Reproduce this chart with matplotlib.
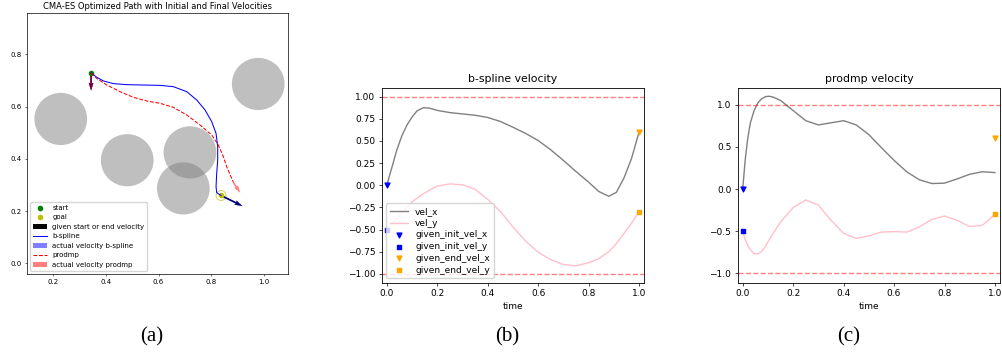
import numpy as np
import matplotlib.pyplot as plt
from matplotlib.patches import Circle

# obstacles (x, y) and radius
obs_x = [0.229, 0.481, 0.719, 0.694, 0.978]
obs_y = [0.553, 0.395, 0.425, 0.287, 0.687]
obs_r = 0.1

start = (0.344, 0.729)
goal = (0.837, 0.26)

# paths
bspline_x = [0.344, 0.3656, 0.3908, 0.4287, 0.4793, 0.5425, 0.6057, 0.6562, 0.7068, 0.7447,
             0.7763, 0.8016, 0.818, 0.8243, 0.8243, 0.8205, 0.818, 0.8205, 0.837]
bspline_y = [0.729, 0.7125, 0.6986, 0.6884, 0.6844, 0.683, 0.6817, 0.6767, 0.6576, 0.6257,
             0.5874, 0.5426, 0.4978, 0.4469, 0.3958, 0.3447, 0.2937, 0.2707, 0.26]
prodmp_x = [0.344, 0.3656, 0.4035, 0.454, 0.5046, 0.5552, 0.6057, 0.6562, 0.7068, 0.7573,
            0.8016, 0.8268, 0.8458, 0.8584, 0.8774, 0.8837]
prodmp_y = [0.729, 0.7087, 0.6831, 0.6576, 0.6359, 0.6218, 0.6129, 0.5976, 0.5682, 0.5299,
            0.4916, 0.4533, 0.4086, 0.3703, 0.3256, 0.3102]

# given boundary velocities
init_vel = (0.0, -0.5)
end_vel = (0.6, -0.3)

# velocity profiles
t_b = [0, 0.02, 0.04, 0.06, 0.08, 0.1, 0.12, 0.145, 0.17, 0.2, 0.25, 0.3, 0.35, 0.4, 0.45,
       0.5, 0.55, 0.6, 0.65, 0.7, 0.75, 0.8, 0.84, 0.88, 0.91, 0.94, 0.97, 1.0]
b_vel_x = [0.0, 0.2, 0.4, 0.56, 0.68, 0.77, 0.84, 0.875, 0.87, 0.845, 0.82, 0.805, 0.79, 0.765,
           0.72, 0.655, 0.585, 0.505, 0.40, 0.28, 0.155, 0.035, -0.07, -0.125, -0.08, 0.08, 0.3, 0.6]
b_vel_y = [-0.5, -0.44, -0.375, -0.315, -0.245, -0.19, -0.145, -0.096, -0.055, -0.01, 0.015,
           0.005, -0.045, -0.16, -0.295, -0.47, -0.63, -0.755, -0.84, -0.895, -0.91, -0.875,
           -0.83, -0.75, -0.66, -0.545, -0.43, -0.3]

t_p = [0, 0.01, 0.02, 0.03, 0.045, 0.06, 0.075, 0.09, 0.105, 0.12, 0.15, 0.2, 0.25, 0.3, 0.35,
       0.4, 0.45, 0.5, 0.55, 0.6, 0.65, 0.7, 0.75, 0.8, 0.85, 0.9, 0.95, 1.0]
p_vel_x = [0.0, 0.35, 0.6, 0.78, 0.93, 1.02, 1.07, 1.095, 1.1, 1.09, 1.05, 0.93, 0.81, 0.76,
           0.785, 0.81, 0.76, 0.645, 0.49, 0.34, 0.205, 0.11, 0.065, 0.07, 0.12, 0.175, 0.205, 0.195]
p_vel_y = [-0.5, -0.6, -0.67, -0.72, -0.765, -0.77, -0.74, -0.68, -0.6, -0.53, -0.39, -0.22,
           -0.13, -0.19, -0.37, -0.525, -0.585, -0.555, -0.51, -0.505, -0.51, -0.45, -0.36,
           -0.32, -0.37, -0.445, -0.43, -0.3]

vel_scale = 0.135

fig = plt.figure(figsize=(10.02, 3.55), dpi=100)

# ---- (a) path ----
ax = fig.add_axes([0.0267, 0.228, 0.261, 0.7355])
for cx, cy in zip(obs_x, obs_y):
    ax.add_patch(Circle((cx, cy), obs_r, color='gray', alpha=0.5, lw=0))
ax.plot(*start, 'go', markersize=3, label='start')
ax.plot(*goal, 'yo', markersize=3, label='goal')
ax.add_patch(Circle(goal, 0.019, fill=False, edgecolor='y', lw=0.6, alpha=0.8))

qkw = dict(angles='xy', scale_units='xy', scale=1 / vel_scale, width=0.006)
ax.quiver([start[0], goal[0]], [start[1], goal[1]], [init_vel[0], end_vel[0]],
          [init_vel[1], end_vel[1]], color='black', label='given start or end velocity', **qkw)
ax.plot(bspline_x, bspline_y, 'b-', lw=0.75, label='b-spline')
ax.quiver([bspline_x[0], bspline_x[-1]], [bspline_y[0], bspline_y[-1]],
          [b_vel_x[0], b_vel_x[-1]], [b_vel_y[0], b_vel_y[-1]],
          color='blue', alpha=0.5, label='actual velocity b-spline', **qkw)
ax.plot(prodmp_x, prodmp_y, 'r--', lw=0.75, label='prodmp')
ax.quiver([prodmp_x[0], prodmp_x[-1]], [prodmp_y[0], prodmp_y[-1]],
          [p_vel_x[0], p_vel_x[-1]], [p_vel_y[0], p_vel_y[-1]],
          color='red', alpha=0.5, label='actual velocity prodmp', **qkw)
ax.set_xlim(0.1, 1.092)
ax.set_ylim(-0.041, 0.959)
ax.set_xticks([0.2, 0.4, 0.6, 0.8, 1.0])
ax.set_yticks([0.0, 0.2, 0.4, 0.6, 0.8])
ax.tick_params(labelsize=5, length=1.75, width=0.4, pad=1.75)
for s in ax.spines.values():
    s.set_linewidth(0.5)
ax.set_title('CMA-ES Optimized Path with Initial and Final Velocities', fontsize=6, pad=3)
ax.legend(loc='lower left', fontsize=5, framealpha=0.8)


def vel_panel(rect, t, vx, vy, title, legend, ylim):
    ax = fig.add_axes(rect)
    ax.plot(t, vx, color='gray', lw=1.0, label='vel_x')
    ax.plot(t, vy, color='pink', lw=1.0, label='vel_y')
    ax.scatter([0], [init_vel[0]], marker='v', color='blue', s=12, zorder=3, label='given_init_vel_x')
    ax.scatter([0], [init_vel[1]], marker='s', color='blue', s=12, zorder=3, label='given_init_vel_y')
    ax.scatter([1], [end_vel[0]], marker='v', color='orange', s=12, zorder=3, label='given_end_vel_x')
    ax.scatter([1], [end_vel[1]], marker='s', color='orange', s=12, zorder=3, label='given_end_vel_y')
    ax.axhline(1.0, color='red', ls='--', lw=1.0, alpha=0.5)
    ax.axhline(-1.0, color='red', ls='--', lw=1.0, alpha=0.5)
    ax.set_xlim(-0.02, 1.02)
    ax.set_ylim(*ylim)
    ax.set_xlabel('time', fontsize=6.5, labelpad=2.6)
    ax.set_title(title, fontsize=7.8, pad=3.9)
    ax.tick_params(labelsize=6.5, length=2.3, width=0.5, pad=2.3)
    for s in ax.spines.values():
        s.set_linewidth(0.6)
    if legend:
        ax.legend(loc='lower left', fontsize=6.5, labelspacing=0.3)
    return ax


ax_b = vel_panel([0.381, 0.2037, 0.2618, 0.549], t_b, b_vel_x, b_vel_y,
                 'b-spline velocity', True, (-1.1, 1.1))
ax_b.set_yticks([-1.0, -0.75, -0.5, -0.25, 0.0, 0.25, 0.5, 0.75, 1.0])
ax_c = vel_panel([0.7362, 0.2037, 0.2618, 0.549], t_p, p_vel_x, p_vel_y,
                 'prodmp velocity', False, (-1.11, 1.2))
ax_c.set_yticks([-1.0, -0.5, 0.0, 0.5, 1.0])

for x, lab in [(0.151, '(a)'), (0.506, '(b)'), (0.847, '(c)')]:
    fig.text(x, 1 - 337 / 355, lab, ha='center', va='center', fontsize=15,
             family='Liberation Serif')

fig.savefig('out.png', dpi=100)
